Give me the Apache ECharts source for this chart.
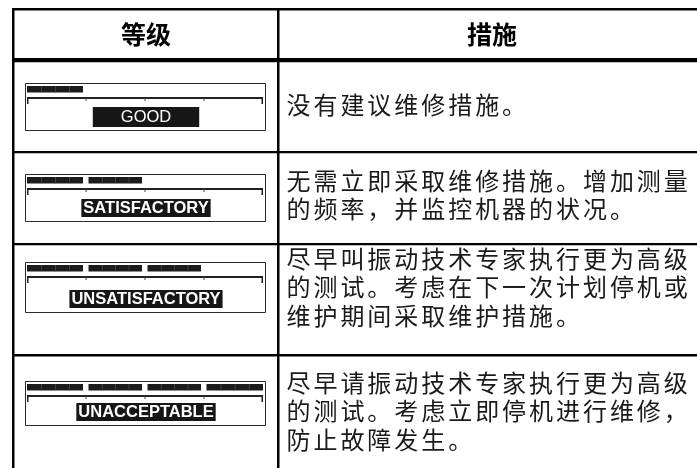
<!DOCTYPE html>
<html><head><meta charset="utf-8">
<script src="https://cdn.jsdelivr.net/npm/echarts@6/dist/echarts.min.js"></script>
<style>html,body{margin:0;padding:0;background:#fff}#c{width:697px;height:468px}</style>
</head><body><div id="c"></div>
<script>
// ---- data ----
const headers = ['等级', '措施'];
const levelLabels = ['GOOD', 'SATISFACTORY', 'UNSATISFACTORY', 'UNACCEPTABLE'];
const levelBars = [1, 2, 3, 4];          // number of filled segments (of 4)
const actionLines = [
  ['没有建议维修措施。'],
  ['无需立即采取维修措施。增加测量', '的频率， 并监控机器的状况。'],
  ['尽早叫振动技术专家执行更为高级', '的测试。考虑在下一次计划停机或', '维护期间采取维护措施。'],
  ['尽早请振动技术专家执行更为高级', '的测试。考虑立即停机进行维修，', '防止故障发生。']
];

// ---- layout (positions / sizes / styles) ----
const W = 697, H = 468;
const tableLeft = 12, colDiv = 278;
const boxTop = [83, 174, 262, 381], boxH = [47, 47, 50, 44];
const boxL = 25, boxR = 265, scaleL = 27, scaleR = 263;
const labelPad = [[2, 28, 1, 28], [1, 2, 0, 2], [1, 2, 0, 2], [1, 2, 0, 2]];
const textX = 286.5, pitch = 26.95, lineH = 28.3;
const firstLineY = [105, 181, 259, 383];

const g = [];
function rect(x, y, w, h, fill) {
  g.push({type: 'rect', shape: {x, y, width: w, height: h}, style: {fill}, silent: true});
}
// table lines
rect(tableLeft, 8, W - tableLeft, 2.5, '#000');
rect(tableLeft, 58, W - tableLeft, 4.3, '#000');
rect(tableLeft, 151, W - tableLeft, 2.2, '#000');
rect(tableLeft, 243, W - tableLeft, 2.2, '#000');
rect(tableLeft, 354, W - tableLeft, 2.4, '#000');
rect(tableLeft, 8, 2.5, H - 8, '#000');
rect(colDiv - 1, 8, 2.5, H - 8, '#000');

// headers
const hdrFont = 'bold 25px "Noto Sans CJK SC", sans-serif';
g.push({type: 'text', x: (tableLeft + colDiv) / 2 + 1, y: 34, silent: true,
  style: {text: headers[0], font: hdrFont, fill: '#000', align: 'center', verticalAlign: 'middle'}});
g.push({type: 'text', x: 492, y: 34, silent: true,
  style: {text: headers[1], font: hdrFont, fill: '#000', align: 'center', verticalAlign: 'middle'}});

// level widgets
levelLabels.forEach((lab, r) => {
  const T = boxTop[r], h = boxH[r];
  g.push({type: 'rect', shape: {x: boxL + 0.5, y: T + 0.5, width: boxR - boxL, height: h}, silent: true,
    style: {fill: '#fff', stroke: '#2a2a2a', lineWidth: 1}});
  const q = (scaleR - scaleL) / 4;
  for (let i = 0; i < levelBars[r]; i++) {
    const x0 = i === 0 ? scaleL : scaleL + i * q + 2.5;
    const x1 = i === 3 ? scaleR : scaleL + (i + 1) * q - 3;
    rect(x0, T + 3, x1 - x0, 6.5, '#1c1c1c');
    for (let k = 1; k < 4; k++) rect(x0 + (x1 - x0) * k / 4, T + 3, 0.8, 6.5, '#4a4a4a');
  }
  // scale
  rect(scaleL, T + 14, scaleR - scaleL, 2, '#222');
  rect(scaleL, T + 14, 1.5, 7, '#222');
  rect(scaleR - 1.5, T + 14, 1.5, 7, '#222');
  for (let k = 1; k < 4; k++) rect(scaleL + k * q - 0.5, T + 15, 1, 3, '#444');
  // label
  const big = r === 0;
  g.push({type: 'text', x: (scaleL + scaleR) / 2 + 1, y: T + h - 13, silent: true,
    style: {text: lab,
      font: (big ? '' : 'bold ') + '16.5px "Liberation Sans", Arial, sans-serif',
      fill: '#fff', align: 'center', verticalAlign: 'middle',
      backgroundColor: '#161616', padding: labelPad[r]}});
});

// action text, laid out on a per-character grid (spaces take no cell)
const bodyFont = '24px "Noto Sans CJK SC", sans-serif';
actionLines.forEach((lines, r) => {
  lines.forEach((ln, j) => {
    Array.from(ln.replace(/ /g, '')).forEach((ch, i) => {
      g.push({type: 'text', x: textX + i * pitch, y: firstLineY[r] + j * lineH, silent: true,
        style: {text: ch, font: bodyFont, fill: '#1a1a1a', align: 'left', verticalAlign: 'middle'}});
    });
  });
});

const chart = echarts.init(document.getElementById('c'), null, {renderer: 'canvas'});
chart.setOption({backgroundColor: '#fff', animation: false, graphic: {elements: g}});
</script></body></html>
